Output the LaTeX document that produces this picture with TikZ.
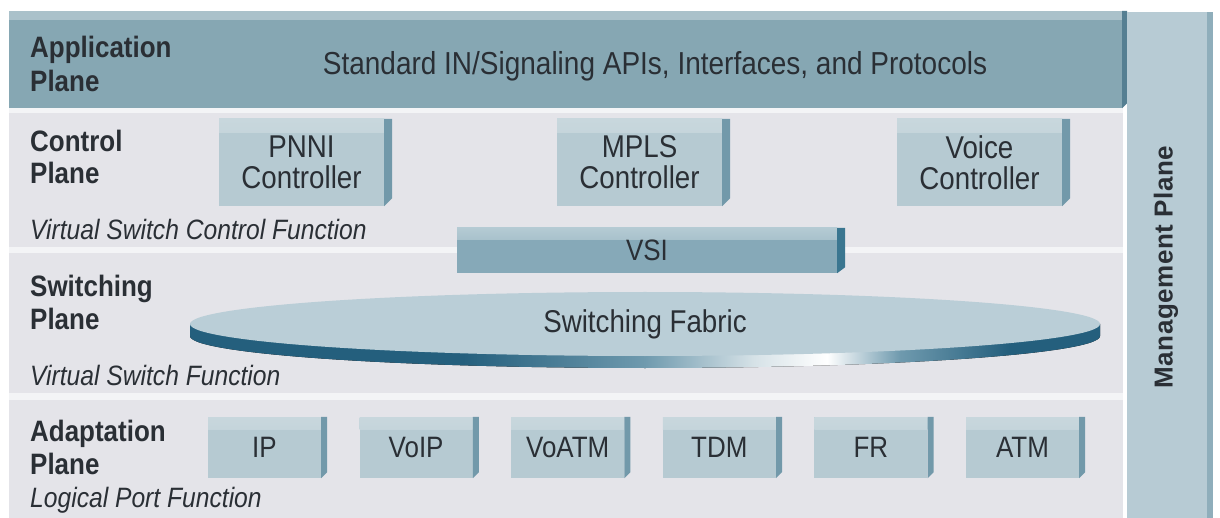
\documentclass[tikz,border=0pt]{standalone}
\usepackage{fontspec}
\setmainfont[FakeStretch=0.88]{Liberation Sans}
\newfontfamily\mgmtfont[LetterSpace=2]{Liberation Sans}
\usetikzlibrary{calc,shapes.geometric}

\definecolor{ink}{HTML}{2A2F35}
\definecolor{band}{HTML}{E4E4E9}
\definecolor{sep}{HTML}{F3F4F6}
\definecolor{appbar}{HTML}{86A7B3}
\definecolor{appbartop}{HTML}{AAC1CA}
\definecolor{appside}{HTML}{557F92}
\definecolor{boxface}{HTML}{B6CAD2}
\definecolor{boxtop}{HTML}{C8D7DD}
\definecolor{boxside}{HTML}{7299AA}
\definecolor{vsiface}{HTML}{86A9B8}
\definecolor{vsitop}{HTML}{B4CAD3}
\definecolor{vsiside}{HTML}{3A7690}
\definecolor{mgmt}{HTML}{B7CBD4}
\definecolor{mgmtedge}{HTML}{8FAEBB}
\definecolor{disk}{HTML}{BACED7}
\definecolor{rimdark}{HTML}{245F7D}
\definecolor{rimmid}{HTML}{6F9AAE}
\definecolor{rimlight}{HTML}{D6E2E7}

% rim of the switching-fabric disk: dark ends, bright highlight right of centre
\pgfdeclarehorizontalshading{rimshade}{100bp}{%
  color(0bp)=(rimdark); color(25bp)=(rimdark); color(40bp)=(rimdark);
  color(50bp)=(rimmid); color(56bp)=(rimlight); color(60bp)=(white);
  color(64bp)=(rimmid); color(70bp)=(rimdark); color(100bp)=(rimdark)}

\tikzset{
  txt/.style={text=ink, inner sep=0pt},
  planelabel/.style={txt, anchor=base west, font=\bfseries\fontsize{29.5}{30}\selectfont},
  funclabel/.style={txt, anchor=base west, font=\itshape\fontsize{28}{30}\selectfont},
  facebox/.style={rectangle, inner sep=0pt, text=ink, align=center},
  ctrlbox/.style={facebox, fill=boxface, minimum width=165pt, minimum height=87pt,
    font=\fontsize{31.5}{31}\selectfont,
    path picture={\shade[top color=boxtop, bottom color=boxface]
      (path picture bounding box.north west) rectangle ([yshift=-14pt]path picture bounding box.north east);}},
  portbox/.style={facebox, fill=boxface, minimum width=113pt, minimum height=61pt,
    font=\fontsize{29.5}{30}\selectfont,
    path picture={\shade[top color=boxtop, bottom color=boxface]
      (path picture bounding box.north west) rectangle ([yshift=-12pt]path picture bounding box.north east);}},
  vsibox/.style={facebox, fill=vsiface, minimum width=380pt, minimum height=45pt,
    font=\fontsize{29.5}{30}\selectfont,
    path picture={\shade[top color=vsitop, bottom color=vsiface]
      (path picture bounding box.north west) rectangle ([yshift=-12pt]path picture bounding box.north east);}},
}

\begin{document}
\begin{tikzpicture}[x=1pt, y=-1pt]
\useasboundingbox (0,0) rectangle (1220,518);
\fill[white] (0,0) rectangle (1220,518);

% plane bands and the light separators between them
\fill[band] (9,108) rectangle (1123,518);
\fill[sep] (9,108) rectangle (1123,113);
\fill[sep] (9,247) rectangle (1123,253);
\fill[sep] (9,393) rectangle (1123,400);

% application plane bar
\node[rectangle, fill=appbar, minimum width=1113pt, minimum height=97pt, inner sep=0pt,
  path picture={\fill[appbartop] (path picture bounding box.north west) rectangle ([yshift=-9pt]path picture bounding box.north east);}]
  (appbar) at (565.5,59.5) {};
\fill[appside] (appbar.north east) -- ++(5,0) -- ($(appbar.south east)+(5,-5)$) -- (appbar.south east) -- cycle;

% management plane bar
\node[rectangle, fill=mgmt, minimum width=86pt, minimum height=506pt, inner sep=0pt,
  path picture={\fill[mgmtedge] ([xshift=-6pt]path picture bounding box.north east) rectangle (path picture bounding box.south east);}]
  (mgmt) at (1170,265) {};
\node[txt, rotate=90, font=\mgmtfont\bfseries\fontsize{26}{28}\selectfont] (mgmtlabel) at (1166,267) {Management Plane};

% controllers
\node[ctrlbox] (pnni) at (301.5,162.5) {PNNI\\Controller};
\node[ctrlbox] (mpls) at (639.5,162.5) {MPLS\\Controller};
\node[ctrlbox] (voice) at (979.5,162.5) {Voice\\Controller};
\foreach \n in {pnni,mpls,voice}
  \fill[boxside] (\n.north east) -- ++(8,0) -- ($(\n.south east)+(8,-8)$) -- (\n.south east) -- cycle;

% virtual switch interface
\node[vsibox] (vsi) at (647,250.5) {VSI};
\fill[vsiside] (vsi.north east) -- ++(8,0) -- ($(vsi.south east)+(8,-6)$) -- (vsi.south east) -- cycle;

% switching fabric disk: rim first, top face over it
\fill[shading=rimshade] (190,324) -- (190,336)
  arc[start angle=180, end angle=0, x radius=455, y radius=32] -- (1100,324) -- cycle;
\node[ellipse, fill=disk, minimum width=910pt, minimum height=64pt, inner sep=0pt,
  text=ink, font=\fontsize{31.5}{32}\selectfont] (fabric) at (645,324) {Switching Fabric};

% logical ports
\node[portbox] (ip)    at (264.5,447.5) {IP};
\node[portbox] (voip)  at (416.1,447.5) {VoIP};
\node[portbox] (voatm) at (567.7,447.5) {VoATM};
\node[portbox] (tdm)   at (719.3,447.5) {TDM};
\node[portbox] (fr)    at (870.9,447.5) {FR};
\node[portbox] (atm)   at (1022.5,447.5) {ATM};
\foreach \n in {ip,voip,voatm,tdm,fr,atm}
  \fill[boxside] (\n.north east) -- ++(6,0) -- ($(\n.south east)+(6,-6)$) -- (\n.south east) -- cycle;

% plane names and function captions
\node[txt, anchor=base, font=\fontsize{31.8}{32}\selectfont] (apis) at (655,75)
  {Standard IN/Signaling APIs, Interfaces, and Protocols};
\node[planelabel] (appA) at (30,58) {Application};
\node[planelabel] (appB) at (30,92) {Plane};
\node[planelabel] (ctlA) at (30,152) {Control};
\node[planelabel] (ctlB) at (30,184) {Plane};
\node[funclabel] (ctlF) at (30,240) {Virtual Switch Control Function};
\node[planelabel] (swA) at (30,297) {Switching};
\node[planelabel] (swB) at (30,330) {Plane};
\node[funclabel] (swF) at (30,385) {Virtual Switch Function};
\node[planelabel] (adA) at (30,441) {Adaptation};
\node[planelabel] (adB) at (30,474) {Plane};
\node[funclabel] (adF) at (30,507) {Logical Port Function};
\end{tikzpicture}
\end{document}
